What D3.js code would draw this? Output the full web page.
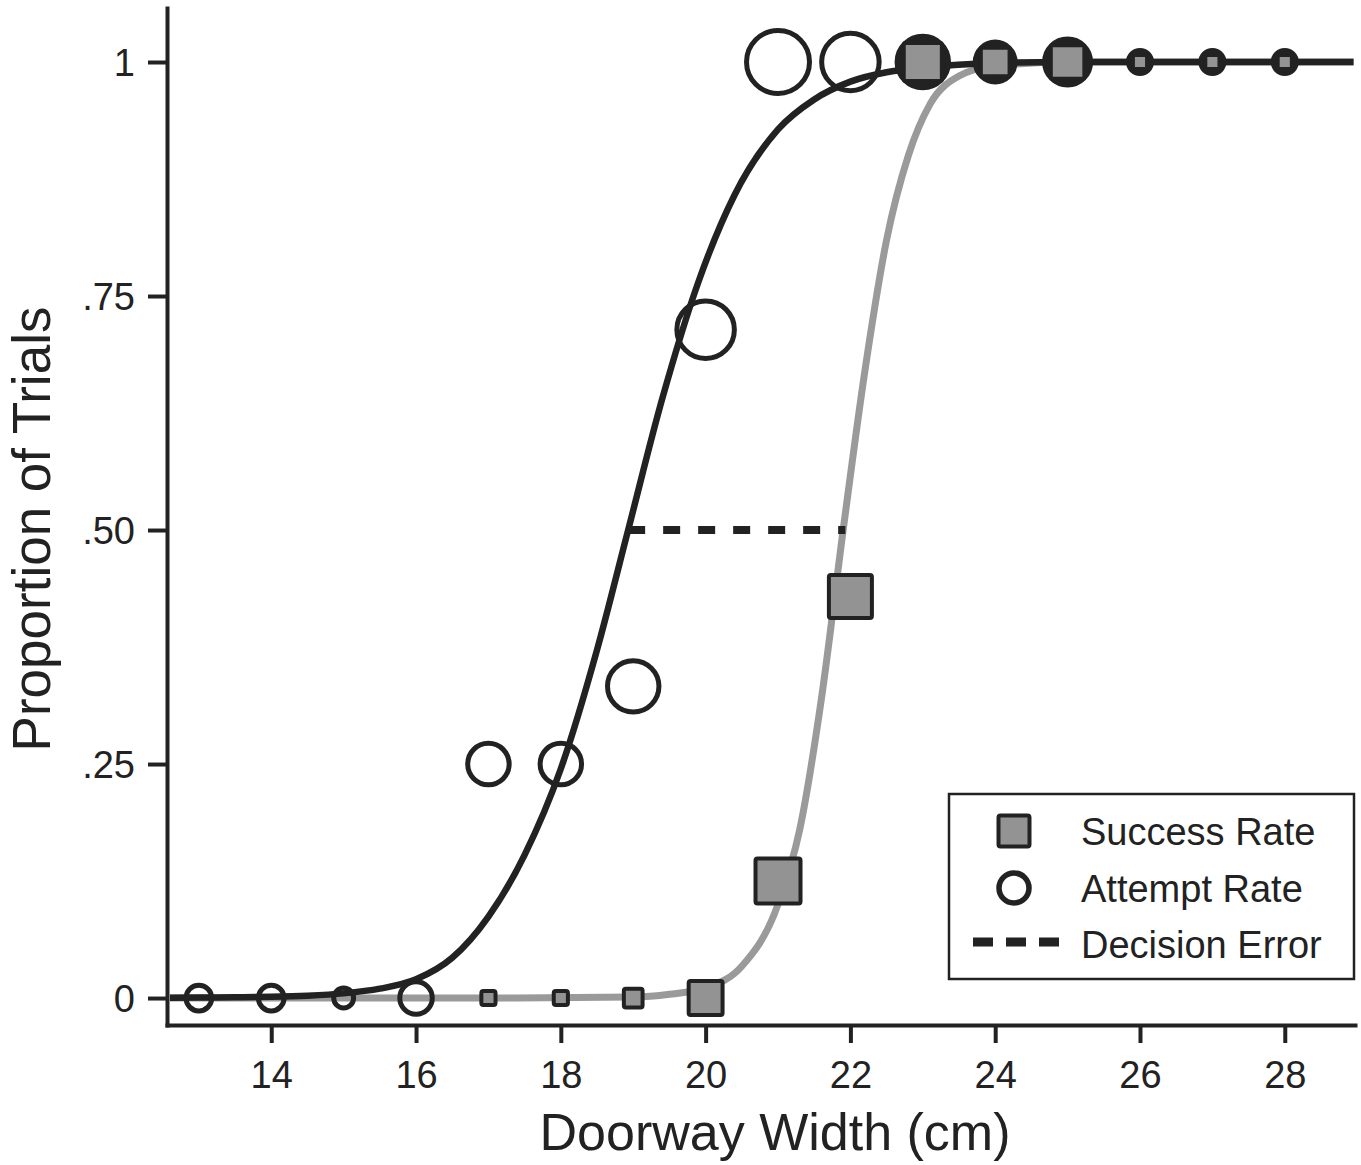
<!DOCTYPE html>
<html><head><meta charset="utf-8">
<script src="https://cdn.jsdelivr.net/npm/d3@7"></script>
<style>
body{margin:0;background:#fff}
text{font-family:"Liberation Sans",Arial,Helvetica,sans-serif;fill:#222}
</style>
</head><body>
<svg id="chart" width="1361" height="1165"></svg>
<script>
// ---------- data ----------
const widths = [13,14,15,16,17,18,19,20,21,22,23,24,25,26,27,28];
const attemptRate = [0,0,0,0,0.25,0.25,0.333,0.714,1,1,1,1,1,1,1,1];
const attemptTrials = [5,5,3,8,13,13,20,25,30,25,20,12,16,4,4,4];

const successWidths = [17,18,19,20,21,22,23,24,25,26,27,28];
const successRate = [0,0,0,0,0.125,0.429,1,1,1,1,1,1];
const successTrials = [8,8,14,46,81,74,58,33,45,8,8,8];

const attemptFitX = [12.6,13,13.5,14,14.5,15,15.5,16,16.5,17,17.5,18,18.5,18.93,19.4,19.9,20.4,21,21.5,22,22.5,23,24,25,26,27,28.95];
const attemptFitY = [0.0003,0.0005,0.0008,0.0013,0.0025,0.005,0.01,0.02,0.043,0.087,0.153,0.245,0.372,0.5,0.64,0.765,0.858,0.928,0.96,0.979,0.989,0.994,0.999,1,1,1,1];

const successFitX = [12.6,15,17,19,19.5,20,20.5,21,21.3,21.6,21.9,22.2,22.5,22.8,23.1,23.5,24,25,26,28.95];
const successFitY = [0,0,0,0.001,0.004,0.011,0.034,0.10,0.18,0.32,0.5,0.67,0.81,0.9,0.955,0.985,0.996,1,1,1];

const decisionErrorX = [18.93, 21.93];
const decisionErrorY = [0.5, 0.5];

const yTickValues = [0, 0.25, 0.5, 0.75, 1];
const yTickLabels = ["0", ".25", ".50", ".75", "1"];
const xTickValues = [14,16,18,20,22,24,26,28];

const legendLabels = ["Success Rate", "Attempt Rate", "Decision Error"];

// ---------- drawing ----------
const dark = "#222", grayLine = "#9a9a9a", squareFill = "#939393";
const svg = d3.select("#chart");

const x = d3.scaleLinear().domain([12.56, 28.97]).range([167, 1355]);
const y = d3.scaleLinear().domain([-0.0288, 1.0577]).range([1025, 8]);
const rScale = d3.scaleSqrt().domain([0, 4]).range([0, 11.5]);
const sScale = d3.scaleSqrt().domain([0, 4]).range([0, 10]);

// axes
const yAxis = d3.axisLeft(y).tickValues(yTickValues)
  .tickFormat((d,i)=>yTickLabels[i]).tickSize(19).tickSizeOuter(0).tickPadding(13);
const xAxis = d3.axisBottom(x).tickValues(xTickValues)
  .tickFormat(d3.format("d")).tickSize(18).tickSizeOuter(0).tickPadding(18);

const gy = svg.append("g").attr("transform", `translate(${x.range()[0]},0)`).call(yAxis);
const gx = svg.append("g").attr("transform", `translate(0,${y.range()[0]})`).call(xAxis);
[gx, gy].forEach(g => {
  g.select(".domain").attr("stroke", dark).attr("stroke-width", 4).attr("stroke-linecap", "square");
  g.selectAll(".tick line").attr("stroke", dark).attr("stroke-width", 4);
  g.selectAll(".tick text").attr("font-size", 38).attr("fill", dark)
    .style("font-family", '"Liberation Sans", Arial, sans-serif');
});
gy.selectAll(".tick text").attr("dy", "0.35em");

// axis titles
svg.append("text").attr("x", 775).attr("y", 1150).attr("text-anchor", "middle")
  .attr("font-size", 52).text("Doorway Width (cm)");
svg.append("text").attr("transform", "translate(50,529) rotate(-90)")
  .attr("text-anchor", "middle").attr("font-size", 53).text("Proportion of Trials");

// fitted curves
const line = d3.line().x(d => x(d[0])).y(d => y(d[1])).curve(d3.curveMonotoneX);
svg.append("path").datum(successFitX.map((v,i)=>[v, successFitY[i]]))
  .attr("d", line).attr("fill", "none").attr("stroke", grayLine).attr("stroke-width", 7);
svg.append("path").datum(attemptFitX.map((v,i)=>[v, attemptFitY[i]]))
  .attr("d", line).attr("fill", "none").attr("stroke", dark).attr("stroke-width", 6.5);

// decision error
svg.append("line")
  .attr("x1", x(decisionErrorX[0])).attr("x2", x(decisionErrorX[1]))
  .attr("y1", y(decisionErrorY[0])).attr("y2", y(decisionErrorY[1]))
  .attr("stroke", dark).attr("stroke-width", 8).attr("stroke-dasharray", "17,18");

// attempt circles (dark disc where a full-success square sits on top)
const coversSquare = (w, rate) => {
  const j = successWidths.indexOf(w);
  return j >= 0 && successRate[j] === rate && rate === 1;
};
svg.append("g").selectAll("circle").data(widths).join("circle")
  .attr("cx", d => x(d)).attr("cy", (d,i) => y(attemptRate[i]))
  .attr("r", (d,i) => rScale(attemptTrials[i]))
  .attr("fill", (d,i) => coversSquare(d, attemptRate[i]) ? dark : "none")
  .attr("stroke", dark).attr("stroke-width", 5);

// success squares
svg.append("g").selectAll("rect").data(successWidths).join("rect")
  .each(function(d,i){
    const s = sScale(successTrials[i]);
    d3.select(this).attr("x", x(d) - s/2).attr("y", y(successRate[i]) - s/2)
      .attr("width", s).attr("height", s);
  })
  .attr("rx", 2).attr("fill", squareFill).attr("stroke", dark).attr("stroke-width", 4);

// legend
const lg = svg.append("g");
lg.append("rect").attr("x", 949).attr("y", 794).attr("width", 405).attr("height", 185)
  .attr("fill", "#fff").attr("stroke", dark).attr("stroke-width", 2.5);
lg.append("rect").attr("x", 1014-15.5).attr("y", 831-15.5).attr("width", 31).attr("height", 31)
  .attr("rx", 2).attr("fill", squareFill).attr("stroke", dark).attr("stroke-width", 4);
lg.append("circle").attr("cx", 1014).attr("cy", 888).attr("r", 15)
  .attr("fill", "none").attr("stroke", dark).attr("stroke-width", 5.5);
lg.append("line").attr("x1", 973).attr("x2", 1060).attr("y1", 942).attr("y2", 942)
  .attr("stroke", dark).attr("stroke-width", 9).attr("stroke-dasharray", "20,13");
lg.selectAll("text.lab").data(legendLabels).join("text").attr("class", "lab")
  .attr("x", 1081).attr("y", (d,i) => 845 + i*56.5).attr("font-size", 38).text(d => d);
</script>
</body></html>
